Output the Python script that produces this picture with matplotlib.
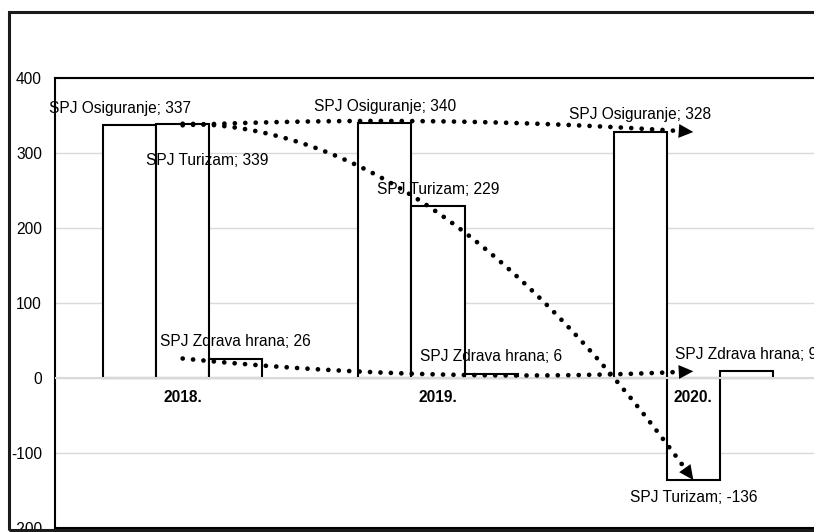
import numpy as np
import matplotlib.pyplot as plt
from matplotlib.patches import Rectangle

plt.rcParams["font.family"] = ["Liberation Sans", "DejaVu Sans"]
plt.rcParams["axes.unicode_minus"] = False

years = ["2018.", "2019.", "2020."]
series = ["SPJ Osiguranje", "SPJ Turizam", "SPJ Zdrava hrana"]
osiguranje = [337, 340, 328]
turizam = [339, 229, -136]
zdrava_hrana = [26, 6, 9]
values = [osiguranje, turizam, zdrava_hrana]

# control value of each dotted trend arrow at the middle year
trend_bend = [352, 339, -8]

# label nudges in pixels (dx, dy) where the original chart moved them
label_nudge = {(0, 0): (-10, 17), (1, 0): (25, -37)}

W, H = 814, 532
fig = plt.figure(figsize=(W / 100, H / 100), dpi=100)
ax = fig.add_axes([55 / W, 4 / H, 766 / W, 450 / H])
ax.set_xlim(-0.5, 2.5)
ax.set_ylim(-200, 400)

x = np.arange(len(years))
bw = 0.208
px2pt = 0.72

for i, (name, vals) in enumerate(zip(series, values)):
    xs = x + (i - 1) * bw
    ax.bar(xs, vals, width=bw, color="white", edgecolor="black", linewidth=1.5, zorder=2)
    for j, v in enumerate(vals):
        dx, dy = label_nudge.get((i, j), (0, 17 if v >= 0 else -17))
        ax.annotate(f"{name}; {v}", (xs[j], v), xytext=(dx * px2pt, dy * px2pt),
                    textcoords="offset points", ha="center", va="center",
                    fontsize=11.2, color="black", zorder=4, annotation_clip=False)

# zero line drawn over the bar bases, as in the original
ax.axhline(0, color="#d9d9d9", linewidth=1.5, zorder=3)

for j, yr in enumerate(years):
    ax.annotate(yr, (x[j], 0), xytext=(0, -20 * px2pt), textcoords="offset points",
                ha="center", va="center", fontsize=11.2, fontweight="bold", zorder=4)

# dotted trend arrows (quadratic curves from first to last year)
head_px = 13
for vals, bend in zip(values, trend_bend):
    p0 = np.array([x[0], vals[0]], float)
    p1 = np.array([x[1], bend], float)
    p2 = np.array([x[2], vals[2]], float)
    t = np.linspace(0, 1, 400)[:, None]
    pts = (1 - t) ** 2 * p0 + 2 * (1 - t) * t * p1 + t ** 2 * p2
    pix = ax.transData.transform(pts)
    tip = ax.transData.transform(p2)
    keep = np.hypot(*(pix - tip).T) > head_px
    ax.plot(pts[keep, 0], pts[keep, 1], color="black", lw=3.4, linestyle=(0, (0.01, 2.2)),
            dash_capstyle="round", zorder=5)
    tail = p2 - 0.08 * (p2 - p1)
    ax.annotate("", xy=p2, xytext=tail,
                arrowprops=dict(arrowstyle="-|>,head_length=1.05,head_width=0.5",
                                color="black", lw=0, mutation_scale=10,
                                shrinkA=0, shrinkB=0), zorder=6)

ax.set_yticks(range(-200, 401, 100))
ax.set_xticks([])
ax.tick_params(axis="y", length=0, pad=13 * px2pt, labelsize=11.2)
ax.grid(axis="y", color="#d9d9d9", linewidth=1, zorder=0)
ax.set_axisbelow(True)
for s in ax.spines.values():
    s.set_color("black")
    s.set_linewidth(1.5)

# outer chart frame
fig.patches.append(Rectangle((9 / W, 2 / H), 1.0, (H - 14) / H, transform=fig.transFigure,
                             fill=False, edgecolor="#1a1a1a", linewidth=2.2, zorder=10))

fig.savefig("out.png", dpi=100)
